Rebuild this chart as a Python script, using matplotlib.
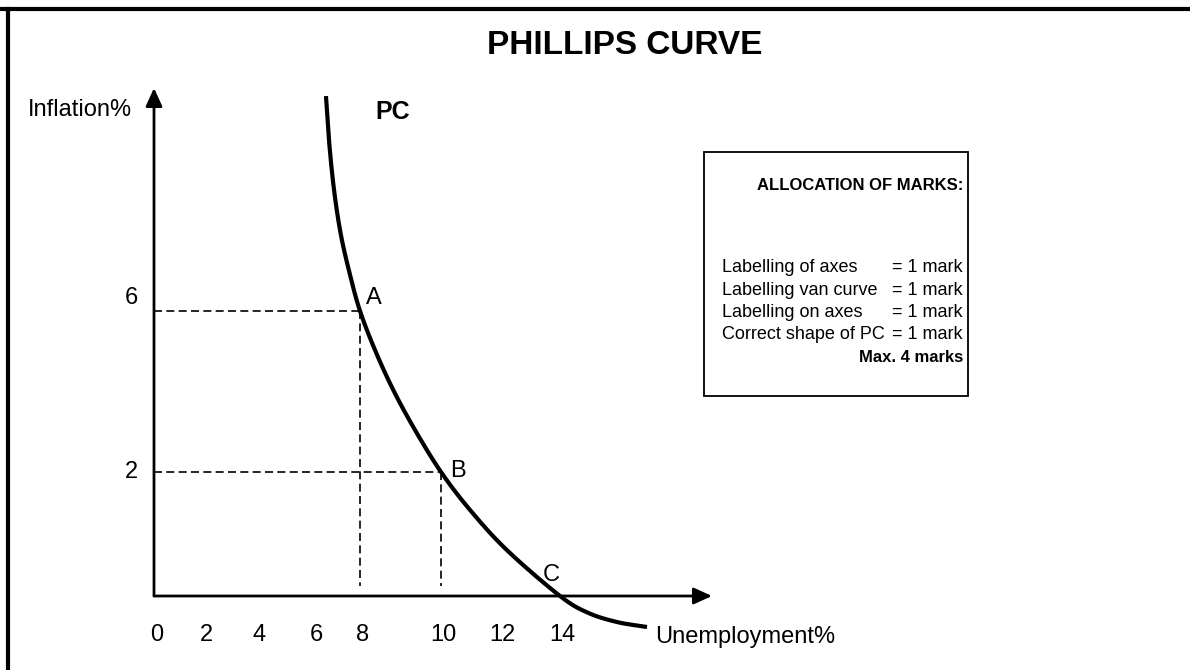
import numpy as np
import matplotlib
matplotlib.use("Agg")
import matplotlib.pyplot as plt

plt.rcParams['font.family'] = ['Liberation Sans', 'DejaVu Sans']

# ---------------- data ----------------
title = "PHILLIPS CURVE"
x_label = "Unemployment%"
y_label = "Inflation%"
x_ticks = [0, 2, 4, 6, 8, 10, 12, 14]
x_tick_labels = ["0", "2", "4", "6", "8", "10", "12", "14"]
y_ticks = [6, 2]
y_tick_labels = ["6", "2"]

points = ["A", "B", "C"]
points_unemp = [8, 10, 14]
points_infl = [6, 2, 0]

# Phillips curve (unemployment %, inflation %)
curve_unemp = [6.52, 6.65, 6.87, 7.17, 7.57, 8.0, 8.37, 8.82, 9.36, 10.0,
               10.98, 12.23, 14.0, 14.93, 15.9, 16.9]
curve_infl = [11.34, 10.25, 9.01, 7.89, 6.89, 6.0, 5.03, 4.04, 3.04, 2.0,
              1.39, 0.74, 0.0, -0.27, -0.42, -0.50]

box_title = "ALLOCATION OF MARKS:"
box_items = ["Labelling of axes", "Labelling van curve", "Labelling on axes", "Correct shape of PC"]
box_marks = ["= 1 mark", "= 1 mark", "= 1 mark", "= 1 mark"]
box_total = "Max. 4 marks"

# ---------------- schematic (hand-drawn) axis scales ----------------
# The drawing's tick spacing is not uniform; a piecewise scale reproduces it.
_xd = [-20, 0, 2, 4, 6, 8, 10, 12, 14, 60]
_xp = [-346, 154, 204, 256, 314, 360, 441, 500, 560, 1940]
_yd = [-20, 0, 2, 6, 40]
_yp = [670 - 1836, 670 - 596, 670 - 472, 670 - 311, 670 + 1057.5]


def fx(v):
    return np.interp(v, _xd, _xp)


def ifx(p):
    return np.interp(p, _xp, _xd)


def fy(v):
    return np.interp(v, _yd, _yp)


def ify(p):
    return np.interp(p, _yp, _yd)


W, H = 1190, 670
fig = plt.figure(figsize=(W / 100, H / 100), dpi=100)
fig.patch.set_facecolor("white")
ax = fig.add_axes([0, 0, 1, 1])
ax.set_xscale("function", functions=(fx, ifx))
ax.set_yscale("function", functions=(fy, ify))
ax.set_xlim(float(ifx(0)), float(ifx(W)))
ax.set_ylim(float(ify(0)), float(ify(H)))
ax.axis("off")

# page frame (top and left edges visible)
fig.add_artist(plt.Line2D([0, 1], [1 - 8.7 / H, 1 - 8.7 / H], color="black", lw=3.0,
                          transform=fig.transFigure))
fig.add_artist(plt.Line2D([8 / W, 8 / W], [0, 1 - 8.7 / H], color="black", lw=3.0,
                          transform=fig.transFigure))

# axes arrows
x_axis_end = float(ifx(712))
y_axis_end = float(ify(670 - 88))
arrow_kw = dict(arrowstyle="-|>,head_length=1.1,head_width=0.5", mutation_scale=10,
                lw=2.0, color="black", shrinkA=0, shrinkB=0)
ax.annotate("", xy=(x_axis_end, 0), xytext=(0, 0), arrowprops=arrow_kw)
ax.annotate("", xy=(0, y_axis_end), xytext=(0, 0), arrowprops=arrow_kw)

# dashed guide lines
for xu, yi in zip(points_unemp[:2], points_infl[:2]):
    ax.plot([0, xu], [yi, yi], color="black", lw=1.2, dashes=(4.8, 2.6))
    ax.plot([xu, xu], [yi, float(ify(670 - 586))], color="black", lw=1.2, dashes=(4.8, 2.6))

# smooth the curve in display space (Catmull-Rom)
ax.figure.canvas.draw()
pts = ax.transData.transform(np.column_stack([curve_unemp, curve_infl]))
P = np.vstack([2 * pts[0] - pts[1], pts, 2 * pts[-1] - pts[-2]])
seg = []
for i in range(1, len(P) - 2):
    p0, p1, p2, p3 = P[i - 1], P[i], P[i + 1], P[i + 2]
    t = np.linspace(0, 1, 25)[:, None]
    seg.append(0.5 * ((2 * p1) + (-p0 + p2) * t + (2 * p0 - 5 * p1 + 4 * p2 - p3) * t ** 2
                      + (-p0 + 3 * p1 - 3 * p2 + p3) * t ** 3))
smooth = ax.transData.inverted().transform(np.vstack(seg))
ax.plot(smooth[:, 0], smooth[:, 1], color="black", lw=3.0, solid_capstyle="butt")

# texts
axis_fs = 17
fig.text(625 / W, 1 - 45 / H, title, ha="center", va="center", fontsize=24, fontweight="bold")
ax.text(float(ifx(28)), float(ify(670 - 110)), y_label, ha="left", va="center", fontsize=axis_fs)
ax.text(float(ifx(655)), float(ify(670 - 637)), x_label, ha="left", va="center", fontsize=axis_fs)
for xv, lab in zip(x_ticks, x_tick_labels):
    ax.annotate(lab, (xv, 0), xytext=(2, -28), textcoords="offset points",
                ha="center", va="center", fontsize=axis_fs)
for yv, lab in zip(y_ticks, y_tick_labels):
    ax.annotate(lab, (0, yv), xytext=(-16, 9 if yv == 6 else 0), textcoords="offset points",
                ha="center", va="center", fontsize=axis_fs)
ax.text(float(ifx(375)), float(ify(670 - 112)), "PC", ha="left", va="center",
        fontsize=18, fontweight="bold")
label_off = {"A": (10, 9), "B": (12, 1), "C": (-6, 15)}
for lab, xv, yv in zip(points, points_unemp, points_infl):
    ax.annotate(lab, (xv, yv), xytext=label_off[lab], textcoords="offset points",
                ha="center", va="center", fontsize=axis_fs)

# allocation box
bx0, by0, bx1, by1 = 704, 152, 968, 396
fig.add_artist(plt.Rectangle((bx0 / W, 1 - by1 / H), (bx1 - bx0) / W, (by1 - by0) / H,
                             fill=False, lw=1.3, ec="black", transform=fig.transFigure))
box_fs = 13
bold_fs = 12
fig.text(757 / W, 1 - 185 / H, box_title, ha="left", va="center", fontsize=bold_fs,
         fontweight="bold")
for i, (it, mk) in enumerate(zip(box_items, box_marks)):
    yy = 268 + 22.3 * i
    fig.text(722 / W, 1 - yy / H, it, ha="left", va="center", fontsize=box_fs)
    fig.text(963 / W, 1 - yy / H, mk, ha="right", va="center", fontsize=box_fs)
fig.text(963 / W, 1 - 357 / H, box_total, ha="right", va="center", fontsize=bold_fs,
         fontweight="bold")

fig.savefig("out.png", dpi=100, facecolor="white")
